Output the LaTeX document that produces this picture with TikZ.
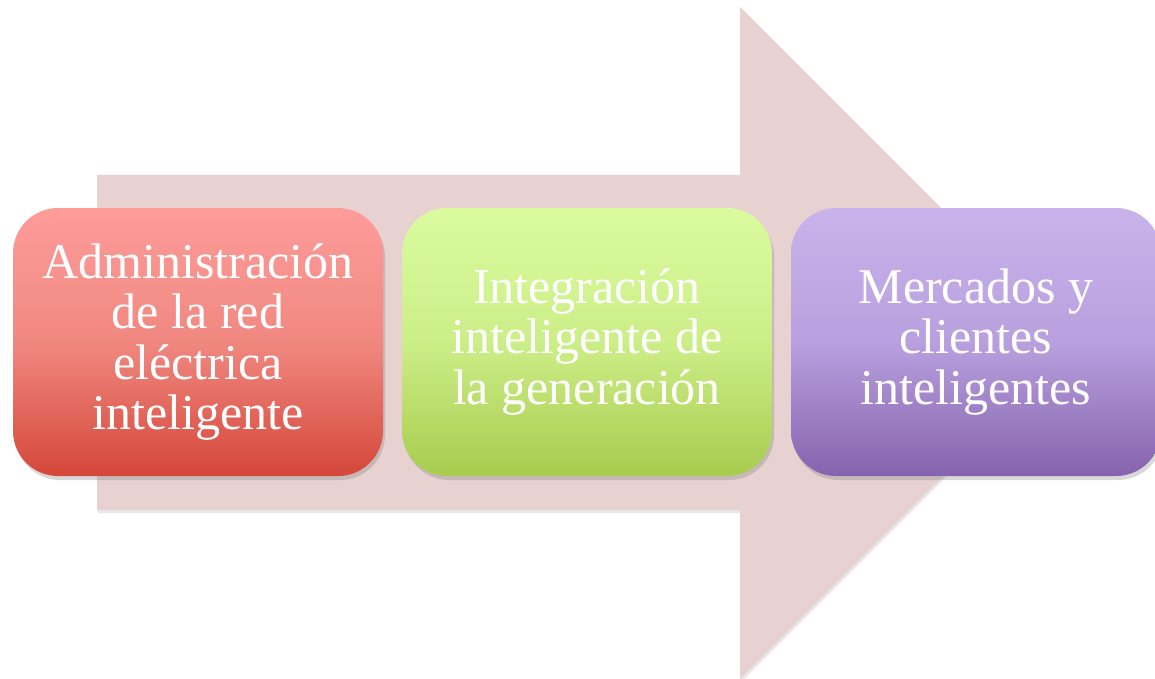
\documentclass[tikz,border=0pt]{standalone}
\usepackage{fontspec}
\setmainfont{Liberation Serif}
\usetikzlibrary{shadows}
\definecolor{arrowfill}{HTML}{E7D1D1}
\definecolor{redtop}{HTML}{FE9C9A}
\definecolor{redmid}{HTML}{F08880}
\definecolor{redbot}{HTML}{D5473A}
\definecolor{greentop}{HTML}{DAFB9E}
\definecolor{greenmid}{HTML}{CCEE88}
\definecolor{greenbot}{HTML}{A7CC4E}
\definecolor{purptop}{HTML}{C8B3EB}
\definecolor{purpmid}{HTML}{B8A0DE}
\definecolor{purpbot}{HTML}{8663AE}
\tikzset{
  stagebox/.style={rounded corners=45pt, minimum width=370pt, minimum height=268pt,
    align=center, text=white, inner sep=0pt,
    font=\fontsize{50}{50.5}\selectfont,
    drop shadow={opacity=0.3, shadow xshift=2pt, shadow yshift=-4pt}},
  bigarrow/.style={fill=arrowfill,
    drop shadow={opacity=0.18, shadow xshift=1pt, shadow yshift=-3pt}}
}
\begin{document}
\begin{tikzpicture}[x=1pt,y=-1pt]
\useasboundingbox (0,0) rectangle (1155,679);
\clip (0,0) rectangle (1155,679);
\fill[white] (0,0) rectangle (1155,679);
\path[bigarrow] (97,175) -- (740,175) -- (740,7) -- (1076,343) -- (740,679) -- (740,510) -- (97,510) -- cycle;
\node[stagebox, top color=redtop, bottom color=redbot, middle color=redmid] (b1) at (198,342)
  {Administración\\de la red\\eléctrica\\inteligente};
\node[stagebox, top color=greentop, bottom color=greenbot, middle color=greenmid] (b2) at (587,342)
  {Integración\\inteligente de\\la generación};
\node[stagebox, top color=purptop, bottom color=purpbot, middle color=purpmid] (b3) at (976,342)
  {Mercados y\\clientes\\inteligentes};
\end{tikzpicture}
\end{document}
